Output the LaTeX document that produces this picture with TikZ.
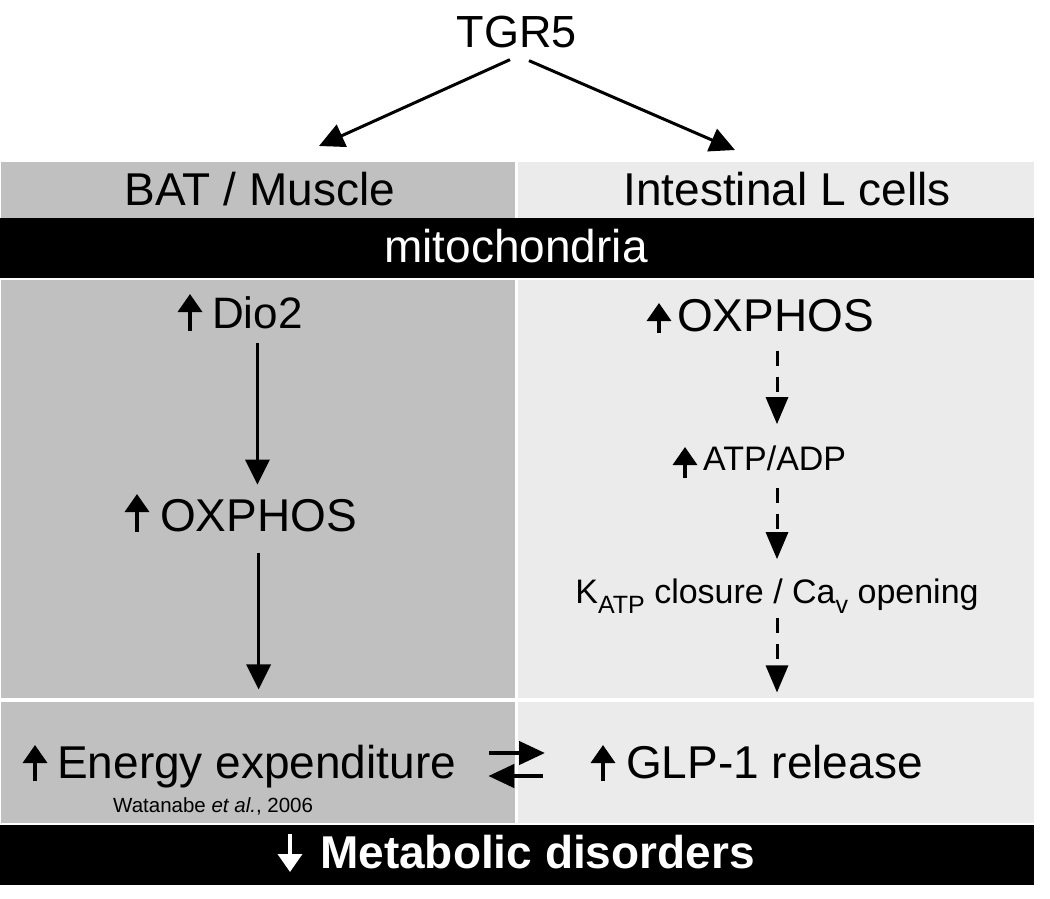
\documentclass[tikz,border=0pt]{standalone}
\usepackage{fontspec}
\setmainfont{Liberation Sans}
\usetikzlibrary{arrows.meta}
\definecolor{dkg}{HTML}{C0C0C0}
\definecolor{ltg}{HTML}{EBEBEB}
\newcommand{\fsz}[1]{\fontsize{#1}{#1}\selectfont}
\begin{document}
\begin{tikzpicture}[x=1pt,y=-1pt,
  txt/.style={inner sep=0pt, anchor=base},
  txtw/.style={inner sep=0pt, anchor=base west},
  arr/.style={line width=3pt, -{Triangle[length=25pt,width=24pt]}},
  darr/.style={line width=3pt, dash pattern=on 15pt off 11pt, -{Triangle[length=27pt,width=22pt]}},
  uparr/.style={line width=3.5pt, -{Triangle[length=18pt,width=24pt]}},
  eqarr/.style={line width=4.5pt, -{Triangle[length=26pt,width=23pt]}},
]
\useasboundingbox (0,0) rectangle (1050,898);
% panels
\fill[dkg] (1,162) rectangle (515,218);
\fill[ltg] (518,162) rectangle (1034,218);
\fill[black] (0,218) rectangle (1034,278);
\fill[dkg] (1,280) rectangle (515,698);
\fill[ltg] (518,280) rectangle (1034,698);
\fill[dkg] (1,702) rectangle (515,823);
\fill[ltg] (518,702) rectangle (1034,823);
\fill[black] (0,825) rectangle (1034,885);

% texts
\node[txt,font=\fsz{45}] (tgr5) at (517,47) {TGR5};
\node[txt,font=\fsz{46}] (bat) at (260,205) {BAT / Muscle};
\node[txt,font=\fsz{46}] (lcell) at (787,205) {Intestinal L cells};
\node[txt,font=\fsz{46},text=white] (mito) at (516,262) {mitochondria};
\node[txtw,font=\fsz{44}] (dio) at (212,328) {Dio2};
\node[txtw,font=\fsz{46}] (oxl) at (160,531) {OXPHOS};
\node[txtw,font=\fsz{46}] (oxr) at (677,331) {OXPHOS};
\node[txtw,font=\fsz{34}] (atp) at (703,470) {ATP/ADP};
\node[txt,font=\fsz{34}] (katp) at (777,603) {K\raisebox{-10pt}{\fsz{25}ATP} closure / Ca\raisebox{-10pt}{\fsz{25}v} opening};
\node[txtw,font=\fsz{46}] (energy) at (57,778) {Energy expenditure};
\node[txtw,font=\fsz{20.5}] (wat) at (113,812) {Watanabe \textit{et al.}, 2006};
\node[txtw,font=\fsz{46}] (glp) at (626,778) {GLP-1 release};
\node[txtw,font=\bfseries\fsz{46},text=white] (meta) at (320,868) {Metabolic disorders};

% small up/down arrows
\draw[uparr] ([xshift=-22pt,yshift=-3pt]dio.base west) -- ++(0,-37);
\draw[uparr] ([xshift=-23pt,yshift=-1pt]oxl.base west) -- ++(0,-38);
\draw[uparr] ([xshift=-18pt,yshift=-2pt]oxr.base west) -- ++(0,-30);
\draw[uparr] ([xshift=-18pt,yshift=-8pt]atp.base west) -- ++(0,-31);
\draw[uparr] ([xshift=-22pt,yshift=-3pt]energy.base west) -- ++(0,-36);
\draw[uparr] ([xshift=-23pt,yshift=-3pt]glp.base west) -- ++(0,-36);
\draw[uparr,white] ([xshift=-30pt,yshift=34pt]meta.base west) -- ++(0,38);

% TGR5 arrows
\coordinate (batin) at (319,146);
\coordinate (lin) at (735,150);
\draw[arr] ([xshift=-7pt,yshift=-12pt]tgr5.south) -- (batin);
\draw[arr] ([xshift=12pt,yshift=-13pt]tgr5.south) -- (lin);

% left column
\draw[arr,shorten <=14pt,shorten >=14pt] (dio.south) -- (dio.south |- oxl.north);
\draw[arr,shorten <=21pt,shorten >=55pt] (oxl.south) -- (oxl.south |- energy.north);

% right column
\draw[darr,shorten <=19pt,shorten >=21pt] (katp.north |- oxr.south) -- (katp.north |- atp.north);
\draw[darr,shorten <=17pt,shorten >=19pt] (katp.north |- atp.south) -- (katp.north);
\draw[darr,shorten <=5pt,shorten >=52pt] (katp.south) -- (katp.south |- glp.north);

% equilibrium arrows
\draw[eqarr] ([xshift=33pt,yshift=25pt]energy.base east) -- ([xshift=-81pt,yshift=25pt]glp.base west);
\draw[eqarr] ([xshift=-83pt,yshift=2pt]glp.base west) -- ([xshift=32pt,yshift=2pt]energy.base east);
\end{tikzpicture}
\end{document}
